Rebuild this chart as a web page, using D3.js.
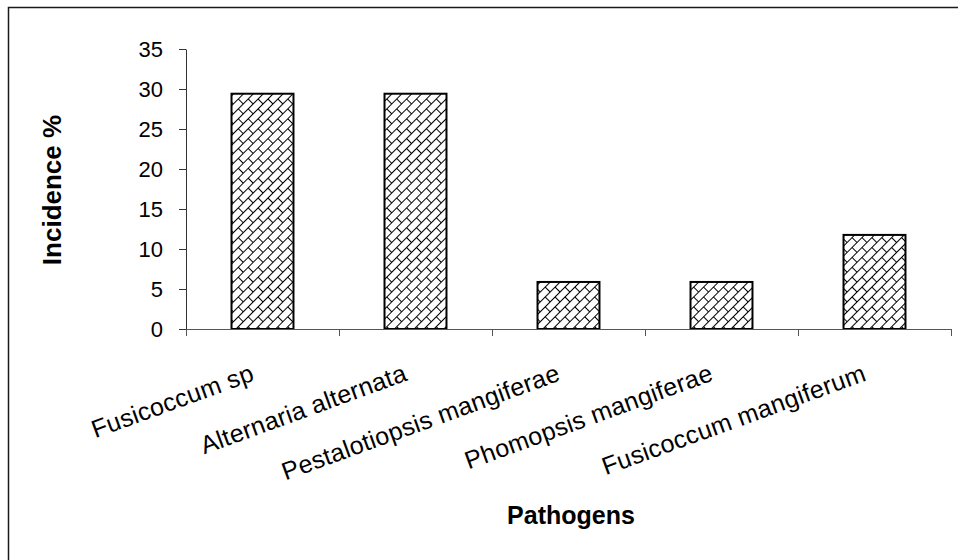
<!DOCTYPE html>
<html>
<head>
<meta charset="utf-8">
<script src="https://cdn.jsdelivr.net/npm/d3@7"></script>
<style>
  html, body { margin: 0; padding: 0; background: #fff; }
  svg { display: block; }
  text { font-family: "Liberation Sans", Arial, sans-serif; fill: #000; }
</style>
</head>
<body>
<svg id="chart" width="958" height="560"></svg>
<script>
// Incidence of pathogens (%)
const categories = [
  "Fusicoccum sp",
  "Alternaria alternata",
  "Pestalotiopsis mangiferae",
  "Phomopsis mangiferae",
  "Fusicoccum mangiferum"
];
const incidence = [29.41, 29.41, 5.88, 5.88, 11.76];
const yTicks = [0, 5, 10, 15, 20, 25, 30, 35];
const yTitle = "Incidence %";
const xTitle = "Pathogens";

const svg = d3.select("#chart");
const plot = { left: 186, right: 951, top: 49, bottom: 329 };

// Outer frame
svg.append("rect")
  .attr("x", 8.5).attr("y", 7.5)
  .attr("width", 1000).attr("height", 1000)
  .attr("fill", "none").attr("stroke", "#1a1a1a").attr("stroke-width", 1.5);

// Diagonal brick fill
const defs = svg.append("defs");
const bw = 14, bh = 7;
const pat = defs.append("pattern")
  .attr("id", "brick")
  .attr("patternUnits", "userSpaceOnUse")
  .attr("width", bw).attr("height", bh * 2)
  .attr("patternTransform", "rotate(-45)");
pat.append("rect").attr("width", bw).attr("height", bh * 2).attr("fill", "#fff");
const pg = pat.append("g").attr("stroke", "#000").attr("stroke-width", 1).attr("fill", "none");
pg.append("line").attr("x1", 0).attr("y1", 0.5).attr("x2", bw).attr("y2", 0.5);
pg.append("line").attr("x1", 0).attr("y1", bh + 0.5).attr("x2", bw).attr("y2", bh + 0.5);
pg.append("line").attr("x1", 0.5).attr("y1", 0).attr("x2", 0.5).attr("y2", bh);
pg.append("line").attr("x1", bw / 2 + 0.5).attr("y1", bh).attr("x2", bw / 2 + 0.5).attr("y2", bh * 2);

const y = d3.scaleLinear().domain([0, 35]).range([plot.bottom, plot.top]);
const x = d3.scaleBand().domain(categories)
  .range([plot.left, plot.right])
  .paddingInner(0.595).paddingOuter(0.2975);
const xEdges = d3.scaleLinear().domain([0, categories.length]).range([plot.left, plot.right]);

// Bars
svg.append("g").selectAll("rect")
  .data(categories.map((c, i) => ({ c, v: incidence[i] })))
  .join("rect")
  .attr("x", d => x(d.c))
  .attr("y", d => y(d.v))
  .attr("width", x.bandwidth())
  .attr("height", d => y(0) - y(d.v))
  .attr("fill", "url(#brick)")
  .attr("stroke", "#000").attr("stroke-width", 2);

// Y axis
const yAxis = svg.append("g")
  .attr("transform", `translate(${plot.left},0)`)
  .call(d3.axisLeft(y).tickValues(yTicks).tickSize(7).tickSizeOuter(0).tickPadding(16));
yAxis.select(".domain").attr("stroke", "#333");
yAxis.selectAll(".tick line").attr("stroke", "#333");
yAxis.selectAll(".tick text")
  .attr("font-size", 22).attr("font-family", "Liberation Sans, Arial, sans-serif")
  .attr("fill", "#000").attr("dy", "0.35em");

// X axis (ticks between categories)
const xAxis = svg.append("g")
  .attr("transform", `translate(0,${plot.bottom})`)
  .call(d3.axisBottom(xEdges).tickValues(d3.range(0, categories.length + 1))
    .tickSize(7).tickSizeOuter(0).tickFormat(""));
xAxis.select(".domain").attr("stroke", "#555");
xAxis.selectAll(".tick line").attr("stroke", "#555");

// Rotated category labels
svg.append("g").selectAll("text")
  .data(categories)
  .join("text")
  .attr("transform", d => `translate(${x(d) + x.bandwidth() / 2 - 7},380) rotate(-20)`)
  .attr("text-anchor", "end")
  .attr("font-size", 25)
  .attr("letter-spacing", 0.3)
  .text(d => d);

// Axis titles
svg.append("text")
  .attr("transform", "translate(61,190) rotate(-90)")
  .attr("text-anchor", "middle")
  .attr("font-size", 26).attr("font-weight", "bold")
  .text(yTitle);
svg.append("text")
  .attr("x", 571).attr("y", 524)
  .attr("text-anchor", "middle")
  .attr("font-size", 25).attr("font-weight", "bold")
  .text(xTitle);
</script>
</body>
</html>
